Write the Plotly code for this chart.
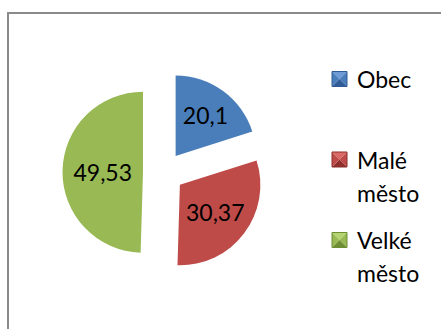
import plotly.graph_objects as go

# Data
categories = ["Obec", "Malé město", "Velké město"]
shares = [20.1, 30.37, 49.53]
slice_colors = ["#4A7EBB", "#BE4B48", "#98B954"]
marker_light = ["#6E9BD6", "#DB6A66", "#B5D370"]
marker_dark = ["#2F5C96", "#8E2F2C", "#6E8E33"]

W, H = 441, 329
FONT = "Lato, 'Open Sans', sans-serif"


def px(x):
    return x / W


def py(y):
    return 1 - y / H


# Pie geometry (pixels): center and outer half-size incl. pull
cx, cy, half = 163.5, 172.5, 101.0
pull = 0.255

fig = go.Figure(
    go.Pie(
        labels=categories,
        values=shares,
        sort=False,
        direction="clockwise",
        rotation=0,
        pull=[pull] * len(shares),
        marker=dict(colors=slice_colors, line=dict(width=0)),
        texttemplate="%{value}",
        textposition="inside",
        insidetextorientation="horizontal",
        textfont=dict(family=FONT, size=23, color="#000000"),
        hoverinfo="label+value",
        showlegend=False,
        domain=dict(x=[px(cx - half), px(cx + half)],
                    y=[py(cy + half), py(cy - half)]),
    )
)

shapes = []
annotations = []

# Chart area border (only top and left edges fall inside the view)
shapes.append(dict(type="rect", xref="paper", yref="paper",
                   x0=px(8), x1=1.05, y0=-0.05, y1=py(13),
                   line=dict(color="#8A8A8A", width=2), fillcolor="rgba(0,0,0,0)"))

# Legend: pyramid-shaded square markers with wrapped labels
leg_marker_x = 332
leg_text_x = 355
row_top = 79
row_step = 80.5
line_step = 33
msz = 15

for i, name in enumerate(categories):
    yc = row_top + i * row_step
    x0, x1 = leg_marker_x, leg_marker_x + msz
    y0, y1 = yc - msz / 2, yc + msz / 2
    mx, my = (x0 + x1) / 2, (y0 + y1) / 2
    faces = [
        ([(x0, y0), (x1, y0), (mx, my)], marker_light[i]),
        ([(x1, y0), (x1, y1), (mx, my)], slice_colors[i]),
        ([(x1, y1), (x0, y1), (mx, my)], marker_dark[i]),
        ([(x0, y1), (x0, y0), (mx, my)], slice_colors[i]),
    ]
    for pts, col in faces:
        path = "M " + " L ".join(f"{px(a):.5f},{py(b):.5f}" for a, b in pts) + " Z"
        shapes.append(dict(type="path", xref="paper", yref="paper", path=path,
                           fillcolor=col, line=dict(width=0)))
    shapes.append(dict(type="rect", xref="paper", yref="paper",
                       x0=px(x0), x1=px(x1), y0=py(y1), y1=py(y0),
                       line=dict(color=marker_dark[i], width=1),
                       fillcolor="rgba(0,0,0,0)"))
    for j, word in enumerate(name.split(" ")):
        annotations.append(dict(
            text=word, xref="paper", yref="paper",
            x=px(leg_text_x), y=py(yc + j * line_step),
            xanchor="left", yanchor="middle", showarrow=False,
            font=dict(family=FONT, size=23, color="#000000"),
        ))

fig.update_layout(
    width=W, height=H,
    margin=dict(l=0, r=0, t=0, b=0),
    paper_bgcolor="white",
    plot_bgcolor="white",
    separators=", ",
    shapes=shapes,
    annotations=annotations,
)

fig.write_html("out.html")
